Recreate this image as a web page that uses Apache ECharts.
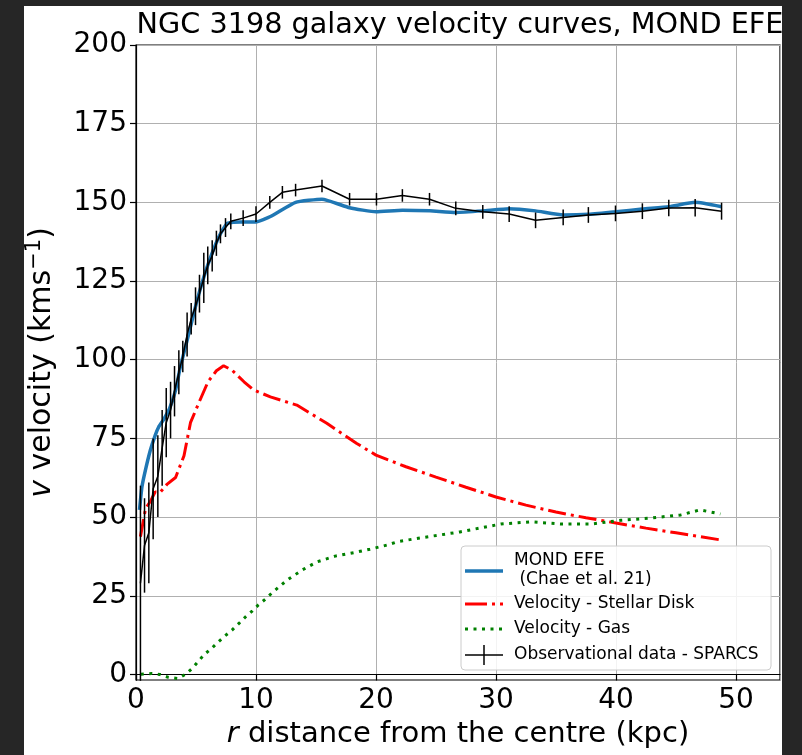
<!DOCTYPE html>
<html>
<head>
<meta charset="utf-8">
<script src="https://cdn.jsdelivr.net/npm/echarts@6/dist/echarts.min.js"></script>
<style>
html,body{margin:0;padding:0;background:#262626;width:802px;height:755px;overflow:hidden;}
#bg{position:absolute;left:24px;top:6px;width:758px;height:749px;background:#fff;}
#chart{position:absolute;left:0;top:0;width:802px;height:755px;}
</style>
</head>
<body>
<div id="bg"></div>
<div id="chart"></div>
<script>
// ---- data ----
const xTicks = [0, 10, 20, 30, 40, 50];
const yTicks = [0, 25, 50, 75, 100, 125, 150, 175, 200];

const obsR = [0.37,0.71,1.07,1.43,1.82,2.18,2.52,2.88,3.21,3.57,3.9,4.26,4.6,4.96,5.29,5.65,5.98,6.35,6.7,7.04,7.46,7.9,8.93,10.0,11.15,12.2,13.3,15.5,17.8,20.04,22.2,24.46,26.65,28.9,31.1,33.3,35.6,37.7,39.96,42.2,44.4,46.6,48.8];
const obsV = [29,41,45,59,63,72,80,84,90,96,101,108,113,117,121,126,130,133,137,140,142,144,145,146.3,150,153.2,153.9,155.2,151,151,152.2,151,148.1,147,146.3,144.3,145.2,146,146.5,147.2,148.2,148.3,147.2];
const obsE = [31,15,16,16,13,12,11,9,8,7,5,7,5,6,6,8,6,5,4,3,3,2.5,2.5,2.5,2,2,2,2,2,2,2,2,2.2,2.2,2.5,2.5,2.5,2.5,2.5,2.5,2.6,2.8,2.7];

const mondR = [0.29,0.5,0.79,1.2,1.6,1.9,2.3,2.8,3.3,3.7,4.27,5.1,5.93,6.9,7.6,8.7,10,11.2,13.3,15.5,17.8,20,22.2,24.5,26.65,28.9,31.1,33.3,35.6,37.7,40,42.2,44.4,46.6,48.8];
const mondV = [52.3,59.7,65,71.3,76,78.7,81,84.5,90.4,97.8,106.3,119,129.5,139,143.3,143.8,143.8,145.5,150,151,148.3,147,147.5,147.3,146.8,147.3,148,147.3,146,146.2,147,147.9,148.6,150,148.6];

const diskR = [0.37,0.8,1.2,1.6,2.0,2.6,3.3,4.0,4.54,5.2,6.0,6.7,7.3,8.0,9.0,9.8,11.2,13.4,15.9,18.4,20,22.5,25,27.5,30,32.5,35,37.5,40,42.5,45,47,48.8];
const diskV = [43.8,52.8,55,58,57.8,60.5,62.6,69.5,80,86,93,96.5,98.1,96.7,93,90.4,88.2,85.6,79.8,73.4,69.7,66,62.7,59.5,56.4,53.8,51.6,49.8,48.1,46.5,45,43.8,42.7];

const gasR = [0.4,1.3,2.0,2.7,3.5,4.1,4.7,5.2,5.7,6.3,6.85,7.4,8.0,8.6,9.1,9.7,10.2,10.8,11.35,12.6,13.85,15.1,16.6,18.15,19.5,20.9,21.8,23.7,27,30.4,32.9,35.4,37.9,40.4,42.9,45.4,47,48.7];
const gasV = [0.1,0.3,0,-0.9,-1.3,0,2,4.2,6.4,8.3,10.3,12.2,14.1,16.3,18.2,20.2,22.1,24,26,30,33.2,35.8,37.6,38.7,39.8,41.1,42.2,43.4,45.3,47.8,48.5,47.8,47.8,49,49.7,50.7,52.3,51];

const FONT = 'DejaVu Sans';
const zip = (a, b) => a.map((v, i) => [v, b[i]]);

const chart = echarts.init(document.getElementById('chart'), null, {renderer: 'canvas'});

const legendX = 461, legendY = 546;
const LF = '17px "DejaVu Sans"';
const option = {
  backgroundColor: 'transparent',
  animation: false,
  textStyle: {fontFamily: FONT},
  title: {
    text: 'NGC 3198 galaxy velocity curves, MOND EFE',
    left: 455, top: 6, textAlign: 'center',
    textStyle: {fontFamily: FONT, fontSize: 28.7, fontWeight: 'normal', color: '#000'}
  },
  grid: {left: 136, top: 45, width: 644, height: 635, show: true, borderColor: '#000', borderWidth: 1.2, backgroundColor: 'transparent'},
  xAxis: {
    type: 'value', min: 0, max: 53.67, interval: 10,
    name: '{i|r} distance from the centre (kpc)', nameLocation: 'middle', nameGap: 39,
    nameTextStyle: {fontFamily: FONT, fontSize: 29, color: '#000', rich: {i: {fontFamily: FONT, fontSize: 29, fontStyle: 'italic', color: '#000'}}},
    axisLine: {show: true, lineStyle: {color: '#000', width: 1.2}},
    axisTick: {show: true, inside: false, length: 6, lineStyle: {color: '#000', width: 1.2}},
    axisLabel: {fontFamily: FONT, fontSize: 28, color: '#000', margin: 7, showMaxLabel: false},
    splitLine: {show: true, lineStyle: {color: '#b0b0b0', width: 1}}
  },
  yAxis: {
    type: 'value', min: -1.75, max: 200,
    name: '{i|v} velocity (kms{sup|−1})', nameLocation: 'middle', nameGap: 75, nameRotate: 90,
    nameTextStyle: {fontFamily: FONT, fontSize: 30, color: '#000', rich: {
      i: {fontFamily: FONT, fontSize: 30, fontStyle: 'italic', color: '#000'},
      sup: {fontFamily: FONT, fontSize: 21, color: '#000', verticalAlign: 'top', padding: [0, 0, 16, 0]}
    }},
    axisLine: {show: true, lineStyle: {color: '#000', width: 1.2}},
    axisTick: {show: true, inside: false, length: 6, customValues: yTicks, lineStyle: {color: '#000', width: 1.2}},
    axisLabel: {fontFamily: FONT, fontSize: 28, color: '#000', margin: 9, customValues: yTicks},
    splitLine: {show: true, lineStyle: {color: '#b0b0b0', width: 1}}
  },
  series: [
    {
      name: 'MOND EFE', type: 'line', data: zip(mondR, mondV), showSymbol: false, smooth: 0.15,
      lineStyle: {color: '#1f77b4', width: 3.5}, z: 3
    },
    {
      name: 'Velocity - Stellar Disk', type: 'line', data: zip(diskR, diskV), showSymbol: false,
      lineStyle: {color: '#ff0000', width: 3, type: [18, 5, 3, 5]}, z: 3
    },
    {
      name: 'Velocity - Gas', type: 'line', data: zip(gasR, gasV), showSymbol: false,
      lineStyle: {color: '#008000', width: 3, type: [3, 5.5]}, z: 3
    },
    {
      name: 'Observational data - SPARCS', type: 'line', data: zip(obsR, obsV), showSymbol: false,
      lineStyle: {color: '#000', width: 1.5}, z: 4
    },
    {
      name: 'errors', type: 'custom', z: 4,
      data: obsR.map((r, i) => [r, obsV[i], obsE[i]]),
      encode: {x: 0, y: 1},
      renderItem: (params, api) => {
        const x = api.value(0), y = api.value(1), e = api.value(2);
        const p1 = api.coord([x, y - e]), p2 = api.coord([x, y + e]);
        return {type: 'line', shape: {x1: p1[0], y1: p1[1], x2: p2[0], y2: p2[1]}, style: {stroke: '#000', lineWidth: 1.5}};
      }
    }
  ],
  graphic: [
    {type: 'rect', shape: {x: legendX, y: legendY, width: 310, height: 124, r: 4}, style: {fill: 'rgba(255,255,255,0.85)', stroke: '#cccccc', lineWidth: 1}, z: 10},
    {type: 'line', shape: {x1: 465, y1: 571, x2: 503, y2: 571}, style: {stroke: '#1f77b4', lineWidth: 3.5}, z: 11},
    {type: 'line', shape: {x1: 465, y1: 604, x2: 503, y2: 604}, style: {stroke: '#ff0000', lineWidth: 3, lineDash: [22, 5, 3, 5]}, z: 11},
    {type: 'line', shape: {x1: 465, y1: 629, x2: 503, y2: 629}, style: {stroke: '#008000', lineWidth: 3, lineDash: [3, 5.5]}, z: 11},
    {type: 'line', shape: {x1: 465, y1: 655, x2: 503, y2: 655}, style: {stroke: '#000', lineWidth: 1.5}, z: 11},
    {type: 'line', shape: {x1: 484, y1: 645, x2: 484, y2: 665}, style: {stroke: '#000', lineWidth: 1.5}, z: 11},
    {type: 'text', x: 514, y: 561, style: {text: 'MOND EFE', font: LF, fill: '#000', verticalAlign: 'middle'}, z: 11},
    {type: 'text', x: 514, y: 580, style: {text: ' (Chae et al. 21)', font: LF, fill: '#000', verticalAlign: 'middle'}, z: 11},
    {type: 'text', x: 514, y: 604, style: {text: 'Velocity - Stellar Disk', font: LF, fill: '#000', verticalAlign: 'middle'}, z: 11},
    {type: 'text', x: 514, y: 629, style: {text: 'Velocity - Gas', font: LF, fill: '#000', verticalAlign: 'middle'}, z: 11},
    {type: 'text', x: 514, y: 655, style: {text: 'Observational data - SPARCS', font: LF, fill: '#000', verticalAlign: 'middle'}, z: 11}
  ]
};
chart.setOption(option);
</script>
</body>
</html>
